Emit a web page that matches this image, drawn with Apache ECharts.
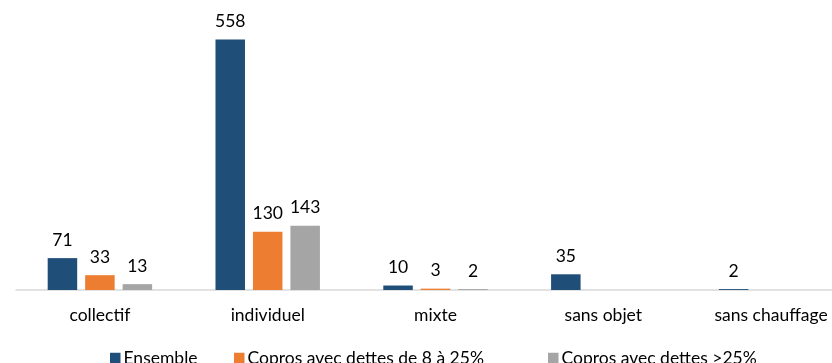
<!DOCTYPE html>
<html>
<head>
<meta charset="utf-8">
<script src="https://cdn.jsdelivr.net/npm/echarts@6/dist/echarts.min.js"></script>
<style>
  html, body { margin: 0; padding: 0; background: #ffffff; }
  #chart { width: 832px; height: 363px; }
</style>
</head>
<body>
<div id="chart"></div>
<script>
// Mode de chauffage des copropriétés, selon le niveau d'endettement
const categories = ['collectif', 'individuel', 'mixte', 'sans objet', 'sans chauffage'];
const ensemble = [71, 558, 10, 35, 2];
const dettes8a25 = [33, 130, 3, null, null];
const dettesPlus25 = [13, 143, 2, null, null];
const seriesNames = ['Ensemble', 'Copros avec dettes de 8 à 25%', 'Copros avec dettes >25%'];

const FONT = 'Lato';
const colors = ['#1F4E79', '#ED7D31', '#A5A5A5'];

const valueLabel = {
  show: true,
  position: 'top',
  distance: 9,
  color: '#000000',
  fontFamily: FONT,
  fontSize: 17.5
};

function barSeries(name, data, color) {
  return {
    name: name,
    type: 'bar',
    data: data,
    barWidth: 29.5,
    barGap: '27%',
    itemStyle: { color: color },
    label: valueLabel
  };
}

// one legend entry per component so each keeps its own horizontal slot
const legendLefts = [105, 229, 543];
const legends = seriesNames.map(function (name, i) {
  return {
    data: [name],
    left: legendLefts[i],
    top: 344,
    itemWidth: 10.5,
    itemHeight: 10.5,
    icon: 'rect',
    textStyle: { color: '#000000', fontFamily: FONT, fontSize: 17.5, padding: [0, 0, 0, -2] }
  };
});

const chart = echarts.init(document.getElementById('chart'), null, { renderer: 'canvas' });
chart.setOption({
  animation: false,
  backgroundColor: '#ffffff',
  // the plot runs past the right edge of the canvas: the last category is cut
  grid: { left: 16, width: 839, top: 20.6, bottom: 73, containLabel: false, outerBoundsMode: 'none' },
  xAxis: {
    type: 'category',
    data: categories,
    axisLine: { show: true, lineStyle: { color: '#D9D9D9', width: 1.5 } },
    axisTick: { show: false },
    axisLabel: { color: '#000000', fontFamily: FONT, fontSize: 17.5, margin: 16 }
  },
  yAxis: {
    type: 'value',
    min: 0,
    max: 600,
    show: false,
    splitLine: { show: false }
  },
  legend: legends,
  series: [
    barSeries(seriesNames[0], ensemble, colors[0]),
    barSeries(seriesNames[1], dettes8a25, colors[1]),
    barSeries(seriesNames[2], dettesPlus25, colors[2])
  ]
});
</script>
</body>
</html>
